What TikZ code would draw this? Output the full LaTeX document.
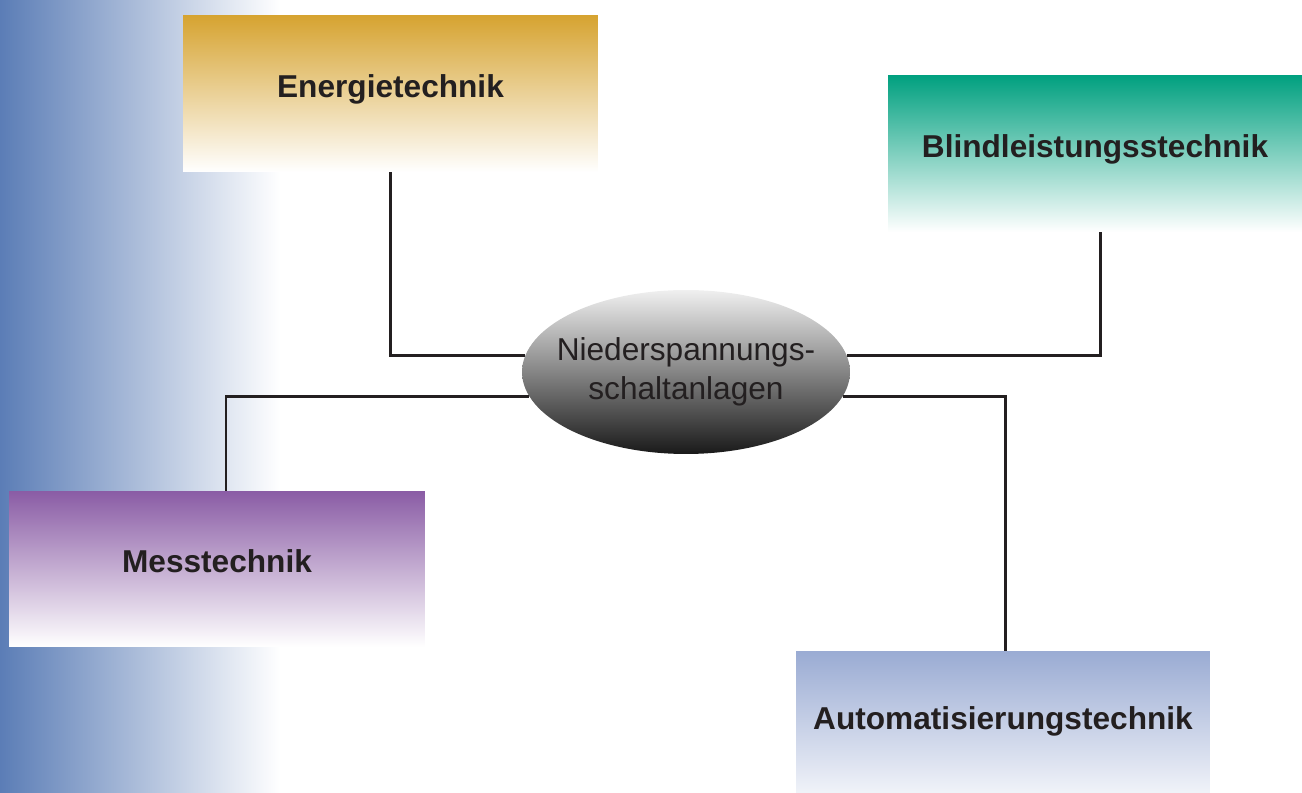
\documentclass[tikz,border=0pt]{standalone}
\usepackage{fontspec}
\setmainfont{Liberation Sans}
\usepackage{tikz}
\usetikzlibrary{shapes.geometric}
\definecolor{bgblue}{HTML}{5B7DB6}
\definecolor{energiecol}{HTML}{D6A330}
\definecolor{blindcol}{HTML}{00A07F}
\definecolor{messcol}{HTML}{8A5CA5}
\definecolor{autocol}{HTML}{9AABD3}
\definecolor{inkcol}{HTML}{231F20}

\begin{document}
\begin{tikzpicture}[x=0.02cm, y=-0.02cm]
	\tikzset{box/.style = {rectangle, inner sep=0pt, bottom color=white,
			font=\fontsize{18}{22}\selectfont\bfseries, text=inkcol,
			text height=0.5cm, text depth=0.35cm},
		link/.style = {draw=inkcol, line width=1.7pt}}
	\useasboundingbox (0,0) rectangle (1302,793);
	\clip (0,0) rectangle (1302,793);
	\shade[left color=bgblue, right color=white] (0,0) rectangle (280,793);
	\node[box, top color=energiecol, minimum width=8.3cm, minimum height=3.14cm] (energie) at (390.5,93.5) {Energietechnik};
	\node[box, top color=blindcol, minimum width=8.28cm, minimum height=3.14cm] (blind) at (1095,153.5) {Blindleistungsstechnik};
	\node[box, top color=messcol, minimum width=8.32cm, minimum height=3.12cm] (mess) at (217,569) {Messtechnik};
	\node[box, top color=autocol, bottom color=autocol!10, minimum width=8.28cm, minimum height=3cm] (auto) at (1003,726) {Automatisierungstechnik};
	\node[ellipse, inner sep=0pt, minimum width=6.56cm, minimum height=3.28cm, top color=black!6, middle color=black!38, bottom color=black!90,
		text=inkcol, font=\fontsize{18}{22}\selectfont] (nsa) at (686,372)
		{\makebox[0pt]{\begin{tabular}{@{}c@{}}Niederspannungs-\\schaltanlagen\end{tabular}}};
	\draw[link] (energie.south) |- (nsa.174);
	\draw[link] ([xshift=0.1cm]blind.south) |- (nsa.6);
	\draw[link] ([xshift=0.18cm]mess.north) |- (nsa.189);
	\draw[link] ([xshift=0.04cm]auto.north) |- (nsa.-9);
\end{tikzpicture}
\end{document}
